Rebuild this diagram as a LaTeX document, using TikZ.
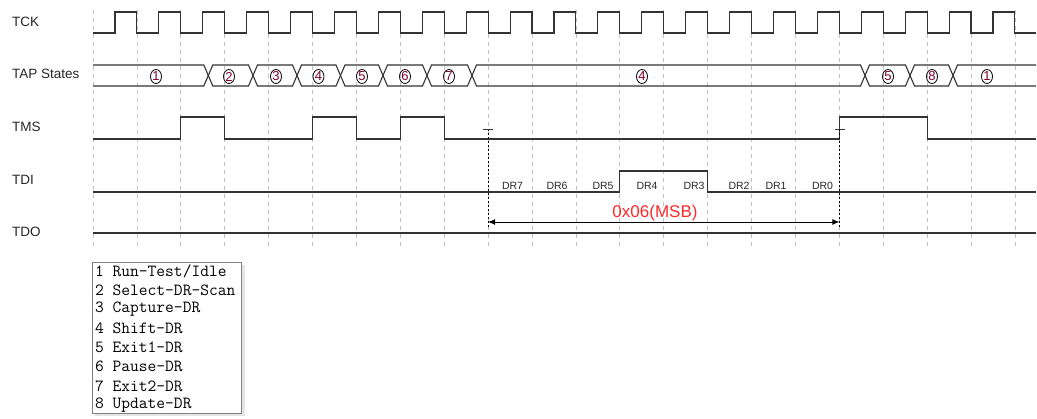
\documentclass[tikz,border=0pt]{standalone}
\usepackage{fontspec}
\setmainfont{Liberation Sans}
\usetikzlibrary{arrows.meta,shapes.geometric}
\definecolor{sig}{HTML}{333333}
\definecolor{gridc}{HTML}{C4C4C4}
\definecolor{stnum}{HTML}{800030}
\definecolor{redt}{HTML}{FF2A2A}
\begin{document}
\begin{tikzpicture}[x=1pt,y=-1pt,
  sigline/.style={draw=sig,line width=1.1pt,line join=miter},
  busline/.style={draw=sig,line width=1.1pt,line join=miter},
  gridline/.style={draw=gridc,line width=0.8pt,dash pattern=on 4pt off 4pt},
  namelbl/.style={anchor=west,font=\fontsize{13.5}{14}\selectfont,text=black!85,inner sep=0pt},
  drlbl/.style={font=\fontsize{10.5}{11}\selectfont,inner sep=0pt,text=black!85},
  stlbl/.style={ellipse,draw=black,line width=0.8pt,minimum width=11pt,minimum height=14pt,inner sep=0pt,text=stnum,font=\fontsize{13}{13}\selectfont},
  markline/.style={draw=black,line width=0.9pt,dash pattern=on 2.5pt off 1.5pt},
  tickline/.style={draw=black!80,line width=0.9pt},
  legtxt/.style={anchor=west,inner sep=0pt,font=\ttfamily\fontsize{17}{18}\selectfont},
  dimarrow/.style={{Latex[length=7pt,width=6pt]}-{Latex[length=7pt,width=6pt]},line width=0.9pt,draw=black}]
\useasboundingbox (0,0) rectangle (1037,419);
% grid
\foreach \k in {0,...,21} \draw[gridline] ({93+43.9*\k},10) -- ({93+43.9*\k},248);
% signal names
\node[namelbl] (nTCK) at (12,22) {TCK};
\node[namelbl] (nTAP) at (12,74) {TAP States};
\node[namelbl] (nTMS) at (12,127) {TMS};
\node[namelbl] (nTDI) at (12,180) {TDI};
\node[namelbl] (nTDO) at (12,232) {TDO};
% TCK
\draw[sigline] (93,33) \foreach \k in {0,...,20} { -- ({93+43.9*\k+21.95},33) -- ({93+43.9*\k+21.95},12) -- ({93+43.9*(\k+1)},12) -- ({93+43.9*(\k+1)},33) } -- (1036,33);
% TAP states bus
\draw[busline] (93,65) -- (203.8,65) -- (208.3,75.5) -- (203.8,86) -- (93,86);
\foreach \a/\b in {208.3/253,253/297,297/340.5,340.5/383,383/427,427/472,472/865,865/910,910/953}
  \draw[busline] (\a,75.5) -- ({\a+4.5},65) -- ({\b-4.5},65) -- (\b,75.5) -- ({\b-4.5},86) -- ({\a+4.5},86) -- cycle;
\draw[busline] (1036,65) -- (957.5,65) -- (953,75.5) -- (957.5,86) -- (1036,86);
\node[stlbl] (s1) at (156,76.5) {1};
\node[stlbl] (s2) at (229,76.5) {2};
\node[stlbl] (s3) at (276,76.5) {3};
\node[stlbl] (s4) at (318.5,76.5) {4};
\node[stlbl] (s5) at (362,76.5) {5};
\node[stlbl] (s6) at (405,76.5) {6};
\node[stlbl] (s7) at (449,76.5) {7};
\node[stlbl] (s4b) at (642,76.5) {4};
\node[stlbl] (s5b) at (888,76.5) {5};
\node[stlbl] (s8) at (932,76.5) {8};
\node[stlbl] (s1b) at (987,76.5) {1};
% TMS
\draw[sigline] (93,139) -- (180.8,139) -- (180.8,117) -- (224.7,117) -- (224.7,139) -- (312.5,139) -- (312.5,117) -- (356.4,117) -- (356.4,139) -- (400.3,139) -- (400.3,117) -- (444.2,117) -- (444.2,139) -- (839.3,139) -- (839.3,117) -- (927.1,117) -- (927.1,139) -- (1036,139);
% TDI
\draw[sigline] (93,192) -- (619.8,192) -- (619.8,171) -- (707.6,171) -- (707.6,192) -- (1036,192);
% TDO
\draw[sigline] (93,233) -- (1036,233);
% DR labels
\node[drlbl] (dr7) at (512.5,186) {DR7};
\node[drlbl] (dr6) at (557,186) {DR6};
\node[drlbl] (dr5) at (603,186) {DR5};
\node[drlbl] (dr4) at (647,186) {DR4};
\node[drlbl] (dr3) at (694,186) {DR3};
\node[drlbl] (dr2) at (739,186) {DR2};
\node[drlbl] (dr1) at (776,186) {DR1};
\node[drlbl] (dr0) at (822.5,186) {DR0};
% markers
\coordinate (mA) at (488.1,129);
\coordinate (mB) at (839.3,129);
\coordinate (mAe) at (488.1,227);
\coordinate (mBe) at (839.3,227);
\coordinate (aA) at (488.1,222);
\coordinate (aB) at (839.3,222);
\draw[markline] (mA) -- (mAe);
\draw[markline] (mB) -- (mBe);
\draw[tickline] ([xshift=-5pt]mA) -- ([xshift=5pt]mA);
\draw[tickline] ([xshift=-4pt]mB) -- ([xshift=6pt]mB);
\draw[dimarrow] (aA) -- (aB);
\node[text=redt,font=\fontsize{17}{18}\selectfont,inner sep=0pt] (val) at (655,213) {0x06(MSB)};
% legend
\fill[black!10] (95,265) rectangle (244.5,416.5);
\draw[draw=black!50,fill=white,line width=0.8pt] (92,262) rectangle (241,413);
\node[legtxt] (l1) at (95,271) {1 Run-Test/Idle};
\node[legtxt] (l2) at (95,290) {2 Select-DR-Scan};
\node[legtxt] (l3) at (95,309) {3 Capture-DR};
\node[legtxt] (l4) at (95,328) {4 Shift-DR};
\node[legtxt] (l5) at (95,347.5) {5 Exit1-DR};
\node[legtxt] (l6) at (95,366.5) {6 Pause-DR};
\node[legtxt] (l7) at (95,386) {7 Exit2-DR};
\node[legtxt] (l8) at (95,405) {8 Update-DR};
\end{tikzpicture}
\end{document}
